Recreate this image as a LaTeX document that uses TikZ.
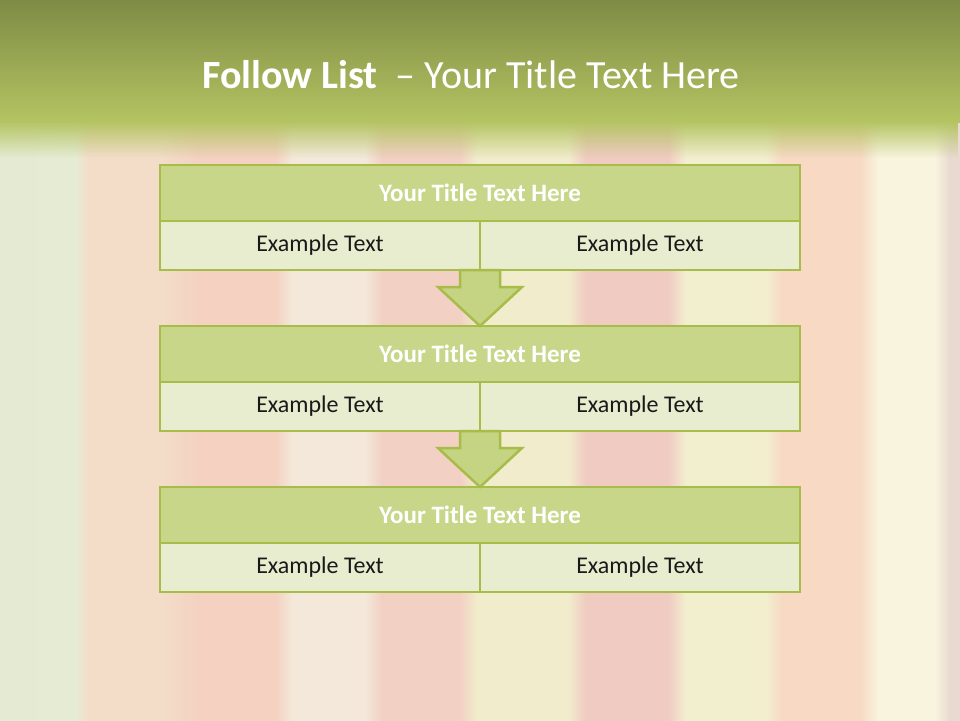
\documentclass[tikz,border=0pt]{standalone}
\usepackage{fontspec}
\setmainfont{Carlito}
\usetikzlibrary{calc,positioning,fadings}

\definecolor{hdrtop}{HTML}{7E8B45}
\definecolor{hdrbot}{HTML}{B4C462}
\definecolor{boxline}{HTML}{A8BC4A}
\definecolor{headfill}{HTML}{C8D68A}
\definecolor{cellfill}{HTML}{E8EDCF}
\definecolor{arrowfill}{HTML}{C5D483}
% painted stripes of the backdrop
\definecolor{bg1}{HTML}{E4EBD2}
\definecolor{bg2}{HTML}{E6ECD4}
\definecolor{bg3}{HTML}{F3DDC9}
\definecolor{bg4}{HTML}{F4D1C1}
\definecolor{bg5}{HTML}{F3E8D9}
\definecolor{bg6}{HTML}{F2D0C4}
\definecolor{bg7}{HTML}{F1ECCB}
\definecolor{bg8}{HTML}{F0CBC2}
\definecolor{bg9}{HTML}{F2EFCF}
\definecolor{bg10}{HTML}{F7D9C4}
\definecolor{bg11}{HTML}{F8F4DE}
\definecolor{bg12}{HTML}{E9D9D0}

\tikzfading[name=hdrfade, top color=transparent!0, bottom color=transparent!100]

\tikzset{
  headbox/.style={draw=boxline, fill=headfill, line width=2.5pt, outer sep=0pt, minimum width=640pt,
    minimum height=56pt, inner sep=0pt, text=white, font=\fontsize{25}{30}\selectfont\bfseries},
  cellbox/.style={draw=boxline, fill=cellfill, line width=2.5pt, outer sep=0pt, minimum width=320pt,
    minimum height=49pt, inner sep=0pt, text=black!90, font=\fontsize{24}{28}\selectfont},
  downarrow/.style={draw=boxline, fill=arrowfill, line width=2.5pt, line join=miter},
}

\begin{document}
\begin{tikzpicture}[x=1pt,y=-1pt]
    \useasboundingbox (0,0) rectangle (960,720);

    % backdrop
    \foreach \xa/\ca/\xb/\cb in {0/bg1/75/bg2, 75/bg2/88/bg3, 88/bg3/160/bg3, 160/bg3/200/bg4,
        200/bg4/275/bg4, 275/bg4/292/bg5, 292/bg5/365/bg5, 365/bg5/382/bg6, 382/bg6/460/bg6,
        460/bg6/477/bg7, 477/bg7/568/bg7, 568/bg7/586/bg8, 586/bg8/668/bg8, 668/bg8/686/bg9,
        686/bg9/765/bg9, 765/bg9/782/bg10, 782/bg10/860/bg10, 860/bg10/878/bg11,
        878/bg11/935/bg11, 935/bg11/950/bg12, 950/bg12/960/bg12}
        \shade[left color=\ca, right color=\cb] (\xa,0) rectangle (\xb,720);

    % header band
    \shade[top color=hdrtop, bottom color=hdrbot] (0,0) rectangle (960,122);
    \fill[hdrbot, path fading=hdrfade] (0,121) rectangle (960,158);
    \node[text=white, font=\fontsize{40}{48}\selectfont] (title) at (471,75)
        {\textbf{Follow List}\ \ – Your Title Text Here};

    % the three lists
    \foreach \i/\y in {1/165,2/326,3/487} {
        \node[headbox, anchor=north] (t\i) at (480,\y) {Your Title Text Here};
        \node[cellbox, anchor=north east] (l\i) at (t\i.south) {Example Text};
        \node[cellbox, anchor=north west] (r\i) at (t\i.south) {Example Text};
    }

    % arrows between them
    \foreach \i/\j in {1/2,2/3}
        \draw[downarrow] ($(l\i.south east)+(-20,0)$) -- ($(l\i.south east)+(-20,17)$)
            -- ($(l\i.south east)+(-42,17)$) -- (t\j.north) -- ($(l\i.south east)+(42,17)$)
            -- ($(l\i.south east)+(20,17)$) -- ($(l\i.south east)+(20,0)$) -- cycle;

\end{tikzpicture}
\end{document}
